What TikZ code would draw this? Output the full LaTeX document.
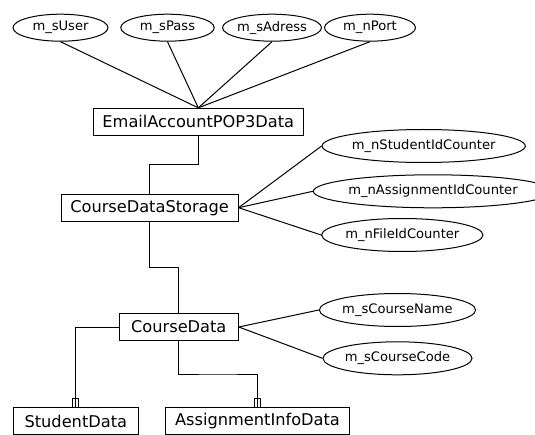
\documentclass[tikz,border=0pt]{standalone}
\usepackage{fontspec}
\setmainfont{DejaVu Sans}
\usetikzlibrary{shapes.geometric,calc}

\tikzset{
  entity/.style={draw, line width=1bp, rectangle, inner sep=0pt,
    minimum height=26.7bp, font=\fontsize{16.2bp}{19bp}\selectfont},
  attr/.style={draw, line width=1bp, ellipse, inner sep=0pt,
    font=\fontsize{13.1bp}{15bp}\selectfont},
  topattr/.style={attr, minimum height=27bp},
  sideattr/.style={attr, minimum height=33bp},
  link/.style={line width=1bp},
  owner/.style={line width=0.8bp},
}

\begin{document}
\begin{tikzpicture}[x=1bp,y=-1bp]
  \useasboundingbox (0,0) rectangle (535,435);
  \clip (0,0) rectangle (535,435);

  % entities
  \node[entity, minimum width=210bp]   (email) at (198.3,121.7) {EmailAccountPOP3Data};
  \node[entity, minimum width=177bp]   (cds)   at (149.6,207.7) {CourseDataStorage};
  \node[entity, minimum width=119bp]   (cd)    at (178.8,327)   {CourseData};
  \node[entity, minimum width=125bp]   (sd)    at (75.8,421)    {StudentData};
  \node[entity, minimum width=183.6bp] (aid)   at (257.5,421)   {AssignmentInfoData};

  % attributes of EmailAccountPOP3Data
  \node[topattr, minimum width=95bp]   (user) at (60.5,27.7)  {m\_sUser};
  \node[topattr, minimum width=93.5bp] (pass) at (167.5,27.7) {m\_sPass};
  \node[topattr, minimum width=95bp]   (adr)  at (272,27.7)   {m\_sAdress};
  \node[topattr, minimum width=91bp]   (port) at (370,27.7)   {m\_nPort};

  % attributes of CourseDataStorage
  \node[sideattr, minimum width=186bp] (sid) at (423.7,146)   {m\_nStudentIdCounter};
  \node[sideattr, minimum width=204bp] (aic) at (433,191.3)   {m\_nAssignmentIdCounter};
  \node[sideattr, minimum width=147bp] (fid) at (402.3,235)   {m\_nFileIdCounter};

  % attributes of CourseData
  \node[sideattr, minimum width=145bp] (cname) at (397.5,310)   {m\_sCourseName};
  \node[sideattr, minimum width=145bp] (ccode) at (397.5,358.3) {m\_sCourseCode};

  % attribute links
  \foreach \a in {user,pass,adr,port}
    \draw[link] (\a.south) -- (email.north);
  \foreach \a in {sid,aic,fid}
    \draw[link] (cds.east) -- (\a.west);
  \foreach \a in {cname,ccode}
    \draw[link] (cd.east) -- (\a.west);

  % containment links
  \draw[link] (email.south) |- ($(email.south)!0.5!(cds.north)$) -| (cds.north);
  \draw[link] (cds.south) |- ($(cds.south)!0.5!(cd.north)$) -| (cd.north);
  \draw[link] (cd.west) -| (sd.north);
  \draw[link] (cd.south) |- ($(cd.south)!0.5!(aid.north)$) -| (aid.north);

  % ownership markers
  \draw[owner] ([xshift=-3bp]sd.north) rectangle ([xshift=3bp,yshift=8.7bp]sd.north);
  \draw[owner] ([xshift=-3bp]aid.north) rectangle ([xshift=3bp,yshift=8.7bp]aid.north);
\end{tikzpicture}
\end{document}
